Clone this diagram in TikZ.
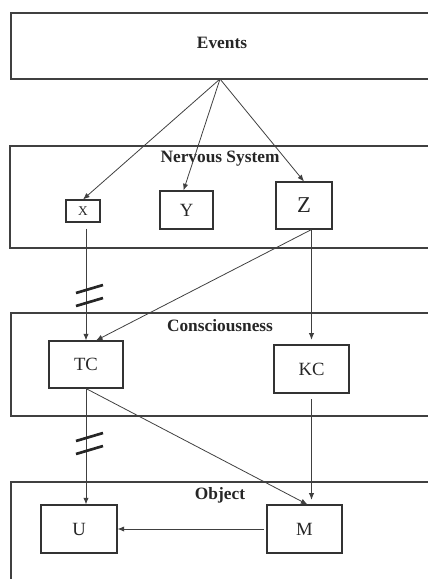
\documentclass[tikz,border=0pt]{standalone}
\usepackage{fontspec}
\setmainfont{Liberation Serif}
\usetikzlibrary{arrows.meta}

\begin{document}
\begin{tikzpicture}[x=0.75pt, y=-0.75pt,
  layer/.style={draw=black!75, line width=0.9pt},
  unit/.style 2 args={draw=black!80, line width=0.8pt, inner sep=0pt, text=black!85, minimum width=#1, minimum height=#2, font=\fontsize{14}{16}\selectfont},
  title/.style={text=black!85, font=\bfseries\fontsize{13}{15}\selectfont},
  link/.style={draw=black!75, line width=0.6pt, -{Latex[length=5pt,width=4pt]}},
  cut/.style={line width=2pt, black!85}]
\clip (0,0) rectangle (428,579);

% layers
\draw[layer] (11,13) rectangle (440,79);
\draw[layer] (10,146) rectangle (440,248);
\draw[layer] (11,313) rectangle (440,416);
\draw[layer] (11,482) rectangle (440,600);
\node[title] (EVT) at (222,43) {Events};
\node[title] (NS) at (220,159) {Nervous System};
\node[title] (CON) at (220,326) {Consciousness};
\node[title] (OBJ) at (220,495) {Object};

% units
\node[unit={25.5pt}{16.5pt}, font=\fontsize{10}{12}\selectfont] (X) at (83,211) {X};
\node[unit={39.75pt}{28.5pt}] (Y) at (186.5,210) {Y};
\node[unit={42pt}{35.25pt}, font=\fontsize{17}{19}\selectfont] (Z) at (304,205.5) {Z};
\node[unit={55.5pt}{35.25pt}] (TC) at (86,364.5) {TC};
\node[unit={56.25pt}{36pt}] (KC) at (311.5,369) {KC};
\node[unit={57pt}{36pt}] (U) at (79,529) {U};
\node[unit={56.25pt}{36pt}] (M) at (304.5,529) {M};

% connectors
\coordinate (EV) at (220,79);
\coordinate (ZB) at (KC.north |- Z.south);
\draw[link] (EV) -- (X.north);
\draw[link] (EV) -- ([shift={(-3,0)}]Y.north);
\draw[link] (EV) -- (Z.north);
\draw[link] ([shift={(3,6)}]X.south) -- (TC.north);
\draw[link] (ZB) -- ([shift={(10,0)}]TC.north);
\draw[link, shorten >=3.5pt] (ZB) -- (KC.north);
\draw[link] (TC.south) -- (TC.south |- U.north);
\draw[link] (TC.south) -- ([shift={(3,0)}]M.north);
\draw[link, shorten <=4pt, shorten >=3.5pt] (KC.south) -- (KC.south |- M.north);
\draw[link, shorten <=2pt] (M.west) -- (U.east);

% breaks
\foreach \y in {289,437} {
  \draw[cut] (76,\y+4) -- (103,\y-4);
  \draw[cut] (76,\y+17) -- (103,\y+9);
}
\end{tikzpicture}
\end{document}
